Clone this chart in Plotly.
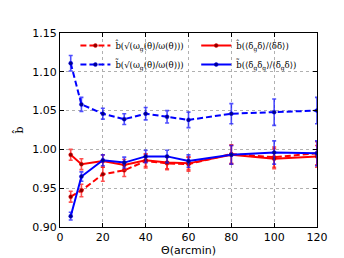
import plotly.graph_objects as go

theta = [5, 10, 20, 30, 40, 50, 60, 80, 100, 120]

bhat_w = [0.939, 0.947, 0.968, 0.973, 0.985, 0.982, 0.981, 0.994, 0.990, 0.995]
bhat_w_err = [0.007, 0.008, 0.009, 0.008, 0.009, 0.008, 0.009, 0.012, 0.013, 0.015]

bhat_d = [0.993, 0.981, 0.985, 0.980, 0.986, 0.983, 0.982, 0.993, 0.988, 0.991]
bhat_d_err = [0.007, 0.007, 0.008, 0.007, 0.008, 0.008, 0.008, 0.012, 0.013, 0.014]

btil_w = [1.111, 1.058, 1.046, 1.039, 1.046, 1.042, 1.038, 1.046, 1.048, 1.050]
btil_w_err = [0.010, 0.009, 0.007, 0.007, 0.008, 0.008, 0.010, 0.013, 0.017, 0.017]

btil_d = [0.914, 0.965, 0.986, 0.983, 0.991, 0.991, 0.985, 0.993, 0.996, 0.995]
btil_d_err = [0.005, 0.006, 0.007, 0.007, 0.008, 0.008, 0.008, 0.012, 0.015, 0.016]

names = [
    "b\u0302(\u221a(\u03c9<sub>g</sub>(\u03b8)/\u03c9(\u03b8)))",
    "b\u0302(\u27e8\u03b4<sub>g</sub>\u03b4\u27e9/\u27e8\u03b4\u03b4\u27e9)",
    "b\u0303(\u221a(\u03c9<sub>g</sub>(\u03b8)/\u03c9(\u03b8)))",
    "b\u0303(\u27e8\u03b4<sub>g</sub>\u03b4<sub>g</sub>\u27e9/\u27e8\u03b4<sub>g</sub>\u03b4\u27e9)",
]

series = [
    (bhat_w, bhat_w_err, "#ff0000", "rgba(255,20,20,0.75)", "#880000", "6px,3px"),
    (bhat_d, bhat_d_err, "#ff0000", "rgba(255,20,20,0.75)", "#880000", "solid"),
    (btil_w, btil_w_err, "#0000ff", "rgba(20,20,255,0.75)", "#000088", "6px,3px"),
    (btil_d, btil_d_err, "#0000ff", "rgba(20,20,255,0.75)", "#000088", "solid"),
]

fig = go.Figure()
for name, (y, e, c, ec, mc, dash) in zip(names, series):
    fig.add_trace(go.Scatter(
        x=theta, y=y, name=name, mode="lines+markers",
        line=dict(color=c, width=2, dash=dash),
        marker=dict(color=mc, size=4, line=dict(color=c, width=0.5)),
        error_y=dict(type="data", array=e, visible=True, color=ec, thickness=1.6, width=2),
    ))

axis_common = dict(
    showgrid=True, gridcolor="#b0b0b0", griddash="dot", gridwidth=1,
    showline=True, linecolor="black", linewidth=1, mirror="ticks",
    ticks="inside", ticklen=4, tickcolor="black", zeroline=False,
    tickfont=dict(family="DejaVu Sans", size=11, color="black"),
)

fig.update_xaxes(range=[0, 120], dtick=20, tick0=0,
                 title=dict(text="\u0398(arcmin)", font=dict(family="DejaVu Sans", size=11, color="black"), standoff=2),
                 **axis_common)
fig.update_yaxes(range=[0.90, 1.15], dtick=0.05, tick0=0.90, tickformat=".2f",
                 title=dict(text="b\u0302", font=dict(family="DejaVu Serif", size=11, color="black"), standoff=6),
                 **axis_common)

fig.update_layout(
    width=344, height=258,
    margin=dict(l=52, r=35, t=25, b=39),
    plot_bgcolor="white", paper_bgcolor="white",
    showlegend=True,
    legend=dict(orientation="h", x=0.06, y=1.01, xanchor="left", yanchor="top",
                entrywidth=0.47, entrywidthmode="fraction",
                bgcolor="rgba(0,0,0,0)", tracegroupgap=0,
                font=dict(family="DejaVu Serif", size=8.5, color="black"),
                itemwidth=30),
)

fig.write_html("out.html")
